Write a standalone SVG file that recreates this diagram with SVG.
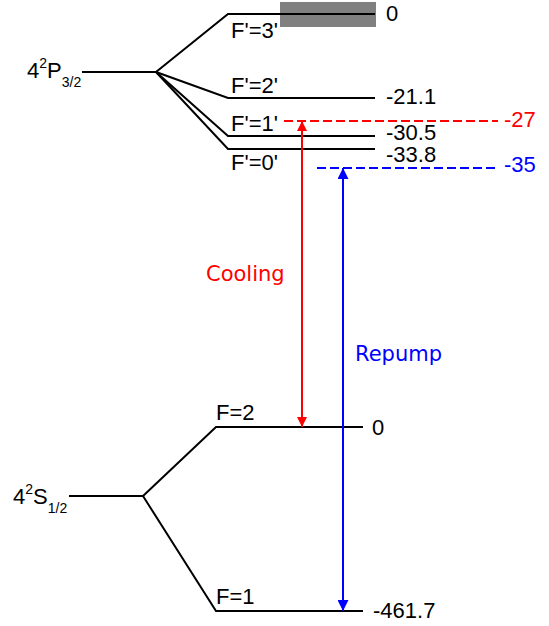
<svg xmlns="http://www.w3.org/2000/svg" width="549" height="626" viewBox="0 0 549 626">
<style>
.lv{fill:none;stroke:#000;stroke-width:2}
.t{font-family:"Liberation Sans",Arial,sans-serif;font-size:22px;fill:#000}
.s{font-size:14px}
.d{font-family:"DejaVu Sans",Verdana,sans-serif;font-size:21px}
</style>
<defs>
<marker id="ar" viewBox="0 0 10 10" refX="10" refY="5" markerWidth="10" markerHeight="10" markerUnits="userSpaceOnUse" orient="auto-start-reverse"><path d="M0,0 L10,5 L0,10 z" fill="#f00"/></marker>
<marker id="ab" viewBox="0 0 10 10" refX="10" refY="5" markerWidth="11" markerHeight="11" markerUnits="userSpaceOnUse" orient="auto-start-reverse"><path d="M0,0 L10,5 L0,10 z" fill="#00f"/></marker>
</defs>
<rect x="280" y="2" width="96" height="25" fill="#808080"/>
<g id="P32">
<path class="lv" d="M82,72 H156"/>
<text class="t" x="27" y="78">4<tspan class="s" dy="-10">2</tspan><tspan dy="10">P</tspan><tspan class="s" dy="9">3/2</tspan></text>
</g>
<g id="Fp3"><path class="lv" d="M156,72 L228,14 H375"/><text class="t" x="231" y="38">F'=3'</text><text class="t" x="386" y="21">0</text></g>
<g id="Fp2"><path class="lv" d="M156,72 L228,98 H375"/><text class="t" x="231" y="93">F'=2'</text><text class="t" x="386" y="104">-21.1</text></g>
<g id="Fp1"><path class="lv" d="M156,72 L228,136 H375"/><text class="t" x="231" y="131">F'=1'</text><text class="t" x="386" y="140">-30.5</text></g>
<g id="Fp0"><path class="lv" d="M156,72 L228,149 H375"/><text class="t" x="231" y="170">F'=0'</text><text class="t" x="386" y="162">-33.8</text></g>
<g id="S12">
<path class="lv" d="M69,496 H143"/>
<text class="t" x="13" y="504">4<tspan class="s" dy="-10">2</tspan><tspan dy="10">S</tspan><tspan class="s" dy="9">1/2</tspan></text>
</g>
<g id="F2"><path class="lv" d="M143,496 L216,427 H363"/><text class="t" x="216" y="420">F=2</text><text class="t" x="372" y="435">0</text></g>
<g id="F1"><path class="lv" d="M143,496 L216,611 H363"/><text class="t" x="216" y="604">F=1</text><text class="t" x="373" y="618">-461.7</text></g>
<g id="connectors">
<path d="M284,121 H498" stroke="#f00" stroke-width="2" stroke-dasharray="9,4" fill="none"/>
<path d="M317,168 H498" stroke="#00f" stroke-width="2" stroke-dasharray="9,4" fill="none"/>
<path d="M302,121 V427" stroke="#f00" stroke-width="2" fill="none" marker-start="url(#ar)" marker-end="url(#ar)"/>
<path d="M343,168 V611" stroke="#00f" stroke-width="2" fill="none" marker-start="url(#ab)" marker-end="url(#ab)"/>
</g>
<text class="t" x="504" y="127" style="fill:#f00">-27</text>
<text class="t" x="504" y="172" style="fill:#00f">-35</text>
<text class="d" x="206" y="281" fill="#f00">Cooling</text>
<text class="d" x="355" y="361" fill="#00f">Repump</text>
</svg>
